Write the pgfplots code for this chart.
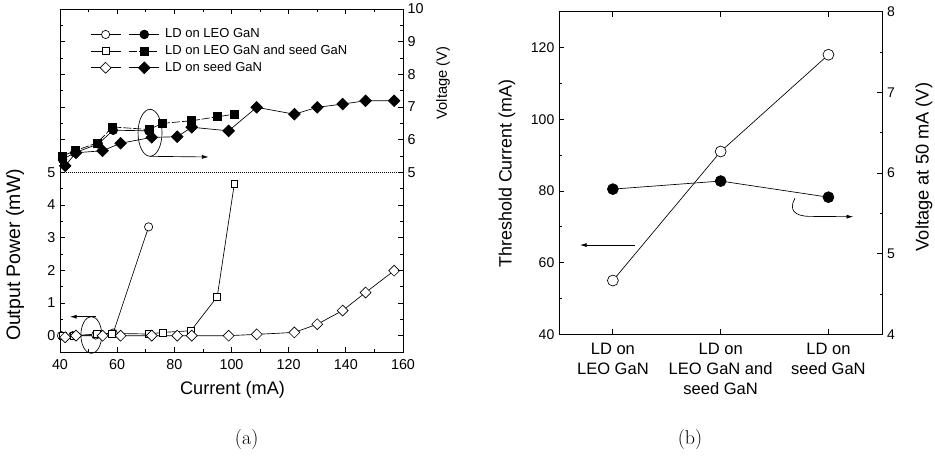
\documentclass[border=0pt]{standalone}
\usepackage{pgfplots}
\pgfplotsset{compat=1.18}
\usepackage{fontspec}
\usetikzlibrary{arrows.meta}
\newfontfamily\arial{Liberation Sans}
\pgfplotsset{
  myax/.style={scale only axis, tick align=inside, clip=false,
    axis line style={line width=0.7pt},
    every tick/.style={black, line width=0.6pt},
    major tick length=3.75pt, minor tick length=2pt,
    /pgf/number format/assume math mode=true,
    tick label style={font=\arial\fontsize{10.75pt}{12pt}\selectfont}},
  pl/.style={black, line width=0.5pt},
}
\begin{document}
\begin{tikzpicture}[font=\arial]
\useasboundingbox (-45pt,-78.75pt) rectangle (656.25pt,264pt);
% ---------------- panel (a) ----------------
\begin{axis}[myax, at={(0pt,0pt)}, anchor=south west,
  width=257.25pt, height=257.25pt,
  xmin=40, xmax=160, ymin=-0.5, ymax=10,
  xtick={40,60,...,160}, minor x tick num=1,
  xticklabel style={yshift=-2pt},
  ytick={0,...,10}, yticklabels={0,1,2,3,4,5,{},{},{},{},{}},
  minor y tick num=1, ytick pos=left,
  legend columns=2,
  legend style={draw=none, fill=none, inner sep=0pt, at={(0.0875,0.944)}, anchor=north west,
    font=\arial\fontsize{9.75pt}{11pt}\selectfont, row sep=3.5pt,
    nodes={inner sep=0pt, text height=7pt, text depth=2pt},
    /tikz/every odd column/.append style={column sep=4.2pt},
    /tikz/every even column/.append style={column sep=0.8pt}},
  legend cell align=left,
  legend image code/.code={\draw[mark repeat=2,mark phase=2] plot coordinates {(0pt,0pt)(11.25pt,0pt)(22.5pt,0pt)};},
]
\addplot[pl, mark=*, mark size=3.1pt, mark options={fill=white, solid}] coordinates {
 (40.5,0) (44.5,0) (52.5,0.02) (58.6,0.08) (71,3.33)};
\addplot[pl, mark=*, mark size=3.3pt, mark options={fill=black, solid}] coordinates {
 (40.9,5.40) (45.2,5.60) (53.4,5.87) (58.6,6.29) (71.1,6.27)};
\addplot[pl, mark=square*, mark size=2.6pt, mark options={fill=white, solid}] coordinates {
 (41,0) (45,0) (52.8,0.05) (58.1,0.07) (71.1,0.05) (75.9,0.1) (85.8,0.15) (95,1.19) (101,4.65)};
\addplot[pl, dash pattern=on 6pt off 1.5pt, mark=square*, mark size=3pt, mark options={fill=black, solid}] coordinates {
 (40.9,5.5) (45.2,5.66) (53,5.9) (58.4,6.39) (71.1,6.31) (75.9,6.5) (86.1,6.58) (95,6.7) (101,6.78)};
\addplot[pl, mark=square*, mark size=2.9pt, mark options={fill=white, solid, rotate=45}] coordinates {
 (41.8,-0.05) (45.6,0) (54.9,0) (61.2,0) (72.1,0) (81,0) (86.1,0) (99,0) (108.8,0.04)
 (122,0.1) (130,0.35) (138.9,0.77) (146.9,1.32) (156.9,1.99)};
\addplot[pl, mark=square*, mark size=3.1pt, mark options={fill=black, solid, rotate=45}] coordinates {
 (41.8,5.2) (45.6,5.6) (54.9,5.66) (61.2,5.89) (72.1,6.07) (81,6.09) (86.1,6.38) (99,6.27)
 (108.8,6.99) (122,6.78) (130,6.99) (138.9,7.09) (146.9,7.19) (156.9,7.19)};
\legend{\mbox{},LD on LEO GaN,\mbox{},LD on LEO GaN and seed GaN,\mbox{},LD on seed GaN}
\addplot[black, line width=0.5pt, densely dotted, forget plot] coordinates {(40,5) (160,5)};
\draw[line width=0.5pt] (axis cs:71.5,6.21) ellipse [x radius=9pt, y radius=17.6pt];
\draw[line width=0.5pt, -{Latex[length=5pt,width=3pt]}] (axis cs:71.5,5.49) -- (axis cs:92,5.47);
\draw[line width=0.5pt] (axis cs:50.96,0.02) ellipse [x radius=7.8pt, y radius=13.8pt];
\draw[line width=0.5pt, -{Latex[length=5pt,width=3pt]}] (axis cs:52.6,0.58) -- (axis cs:43.5,0.58);
\end{axis}
\begin{axis}[myax, at={(0pt,0pt)}, anchor=south west,
  width=257.25pt, height=257.25pt,
  xmin=40, xmax=160, ymin=-0.5, ymax=10,
  axis x line=none, axis y line*=right,
  ytick={0,...,10}, yticklabels={{},{},{},{},{},5,6,7,8,9,10},
  minor y tick num=1]
\end{axis}
% ---------------- panel (b) ----------------
\begin{axis}[myax, at={(374.25pt,13.275pt)}, anchor=south west,
  width=242.5pt, height=241.95pt,
  xmin=0.5, xmax=3.5, ymin=40, ymax=130,
  xtick={1,2,3},
  xticklabels={{LD on\\LEO GaN},{LD on\\LEO GaN and\\seed GaN},{LD on\\seed GaN}},
  xticklabel style={align=center, yshift=-3pt, font=\arial\fontsize{12.4pt}{15pt}\selectfont},
  ytick={40,60,...,120}, minor y tick num=1, ytick pos=left,
  yticklabel style={font=\arial\fontsize{10.5pt}{12pt}\selectfont}]
\addplot[pl, mark=*, mark size=4.1pt, mark options={fill=white, solid}] coordinates {
 (1,55) (2,91) (3,118)};
\draw[line width=0.5pt, -{Latex[length=5pt,width=3pt]}] (axis cs:1.205,64.9) -- (axis cs:0.695,64.9);
\end{axis}
\begin{axis}[myax, at={(374.25pt,13.275pt)}, anchor=south west,
  width=242.5pt, height=241.95pt,
  xmin=0.5, xmax=3.5, ymin=4, ymax=8,
  axis x line=none, axis y line*=right,
  ytick={4,...,8}, minor y tick num=1,
  yticklabel style={font=\arial\fontsize{10.5pt}{12pt}\selectfont}]
\addplot[pl, mark=*, mark size=4.1pt, mark options={fill=black, solid}] coordinates {
 (1,5.80) (2,5.90) (3,5.70)};
\draw[line width=0.5pt, -{Latex[length=5pt,width=3pt]}] (axis cs:2.689,5.686)
  .. controls (axis cs:2.63,5.55) and (axis cs:2.68,5.462) .. (axis cs:2.83,5.462) -- (axis cs:3.23,5.458);
\end{axis}
% ---------------- labels ----------------
\node[rotate=90, font=\arial\fontsize{14.6pt}{16pt}\selectfont] at (-33.75pt,72.75pt) {Output Power (mW)};
\node[rotate=90, font=\arial\fontsize{11pt}{13pt}\selectfont] at (287.25pt,201.75pt) {Voltage (V)};
\node[font=\arial\fontsize{13.6pt}{15pt}\selectfont] at (129.4pt,-28.1pt) {Current (mA)};
\node[rotate=90, font=\arial\fontsize{13.4pt}{15pt}\selectfont] at (335.25pt,133.9pt) {Threshold Current (mA)};
\node[rotate=90, font=\arial\fontsize{13.7pt}{15pt}\selectfont] at (648pt,138.75pt) {Voltage at 50 mA (V)};
\node[font=\normalfont\fontsize{15pt}{18pt}\selectfont] at (140pt,-66pt) {(a)};
\node[font=\normalfont\fontsize{15pt}{18pt}\selectfont] at (472.5pt,-66pt) {(b)};
\end{tikzpicture}
\end{document}
